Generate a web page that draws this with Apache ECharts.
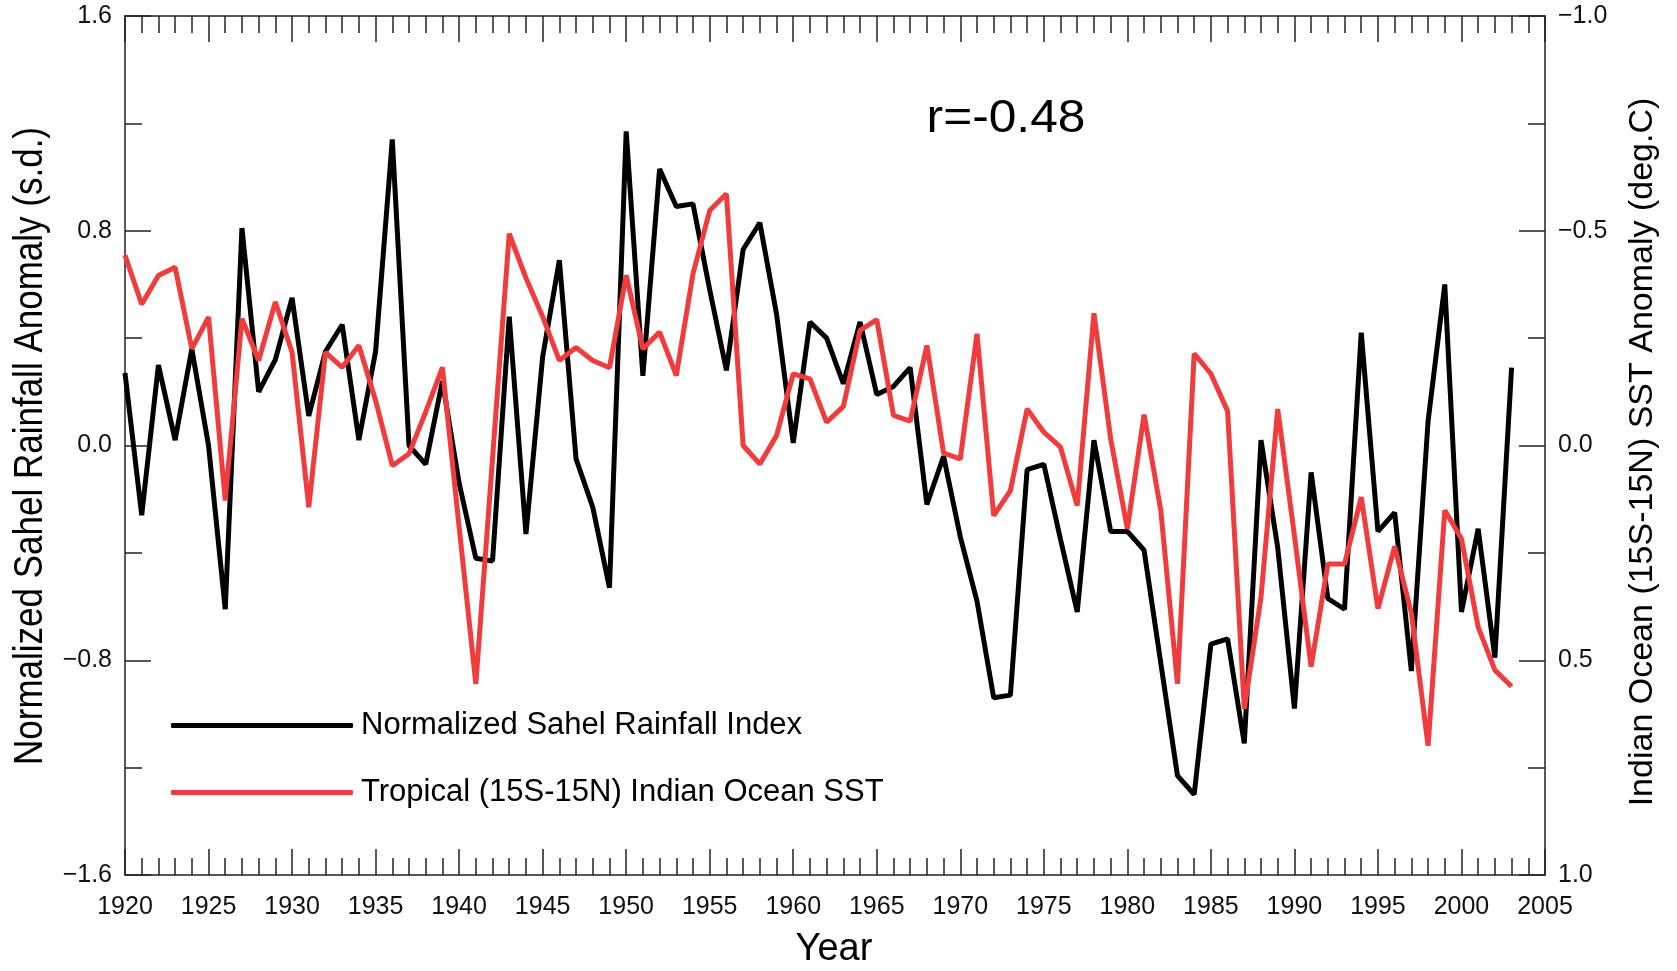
<!DOCTYPE html>
<html>
<head>
<meta charset="utf-8">
<title>Sahel Rainfall vs Indian Ocean SST</title>
<script src="https://cdn.jsdelivr.net/npm/echarts@6.0.0/dist/echarts.min.js"></script>
<style>
    html, body { margin: 0; padding: 0; background: #fff; }
    #chart { width: 1677px; height: 971px; }
</style>
</head>
<body>
<div id="chart"></div>
<script>
// years of the record
var years = [1920, 1921, 1922, 1923, 1924, 1925, 1926, 1927, 1928, 1929,
    1930, 1931, 1932, 1933, 1934, 1935, 1936, 1937, 1938, 1939,
    1940, 1941, 1942, 1943, 1944, 1945, 1946, 1947, 1948, 1949,
    1950, 1951, 1952, 1953, 1954, 1955, 1956, 1957, 1958, 1959,
    1960, 1961, 1962, 1963, 1964, 1965, 1966, 1967, 1968, 1969,
    1970, 1971, 1972, 1973, 1974, 1975, 1976, 1977, 1978, 1979,
    1980, 1981, 1982, 1983, 1984, 1985, 1986, 1987, 1988, 1989,
    1990, 1991, 1992, 1993, 1994, 1995, 1996, 1997, 1998, 1999,
    2000, 2001, 2002, 2003];

// normalized Sahel rainfall index (s.d.), left axis
var sahelRain = [0.27, -0.26, 0.30, 0.02, 0.36, 0.00, -0.61, 0.81, 0.20, 0.32,
    0.55, 0.11, 0.35, 0.45, 0.02, 0.35, 1.14, 0.00, -0.07, 0.24,
    -0.14, -0.42, -0.43, 0.48, -0.33, 0.33, 0.69, -0.05, -0.23, -0.53,
    1.17, 0.26, 1.03, 0.89, 0.90, 0.58, 0.28, 0.73, 0.83, 0.49,
    0.01, 0.46, 0.40, 0.23, 0.46, 0.19, 0.22, 0.29, -0.22, -0.04,
    -0.34, -0.58, -0.94, -0.93, -0.09, -0.07, -0.35, -0.62, 0.02, -0.32,
    -0.32, -0.39, -0.81, -1.23, -1.30, -0.74, -0.72, -1.11, 0.02, -0.38,
    -0.98, -0.10, -0.57, -0.61, 0.42, -0.32, -0.25, -0.84, 0.09, 0.60,
    -0.62, -0.31, -0.79, 0.29];

// tropical (15S-15N) Indian Ocean SST anomaly (deg.C), right axis (inverted)
var indianSst = [-0.443, -0.329, -0.396, -0.415, -0.225, -0.299, 0.128, -0.295, -0.198, -0.334,
    -0.217, 0.144, -0.217, -0.182, -0.233, -0.105, 0.047, 0.019, -0.078, -0.182,
    0.19, 0.555, 0.03, -0.493, -0.39, -0.30, -0.198, -0.228, -0.198, -0.181,
    -0.396, -0.225, -0.264, -0.163, -0.40, -0.547, -0.586, 0.0, 0.043, -0.023,
    -0.167, -0.155, -0.054, -0.091, -0.268, -0.293, -0.07, -0.057, -0.233, 0.018,
    0.031, -0.26, 0.163, 0.105, -0.085, -0.031, 0.004, 0.14, -0.308, -0.016,
    0.194, -0.072, 0.151, 0.555, -0.214, -0.167, -0.08, 0.613, 0.353, -0.085,
    0.21, 0.515, 0.276, 0.276, 0.12, 0.38, 0.235, 0.39, 0.699, 0.151,
    0.217, 0.423, 0.523, 0.561];

var seriesNames = ['Normalized Sahel Rainfall Index', 'Tropical (15S-15N) Indian Ocean SST'];
var corrLabel = 'r=-0.48';

var FONT = '"Liberation Sans", Arial, Helvetica, sans-serif';
var AXIS_COLOR = '#222';

// pair years with values for the value x axis
function toPairs(values) {
    return values.map(function (v, i) {
        return [years[i], v];
    });
}

// one decimal, typographic minus
function fmtTick(v) {
    var s = Math.abs(v).toFixed(1);
    return (v < -1e-9 ? '\u2212' : '') + s;
}

// shared frame settings for every axis (ticks pointing inward)
function frameAxis(extra) {
    var base = {
        axisLine: { show: true, onZero: false, lineStyle: { color: AXIS_COLOR, width: 1.5 } },
        axisTick: { show: true, inside: true, length: 26, lineStyle: { color: AXIS_COLOR, width: 1.5 } },
        minorTick: { show: true, length: 17, lineStyle: { color: AXIS_COLOR, width: 1.5 } },
        splitLine: { show: false },
        minorSplitLine: { show: false }
    };
    for (var k in extra) {
        base[k] = extra[k];
    }
    return base;
}

var myChart = echarts.init(document.getElementById('chart'), null, { renderer: 'canvas' });

var option = {
    animation: false,
    backgroundColor: '#fff',
    grid: {
        left: 125,
        right: 132,
        top: 16,
        bottom: 96
    },
    legend: {
        orient: 'vertical',
        left: 171,
        top: 710,
        padding: 0,
        itemWidth: 182,
        itemHeight: 5,
        itemGap: 36,
        icon: 'roundRect',
        selectedMode: false,
        data: seriesNames,
        textStyle: {
            fontFamily: FONT,
            fontSize: 31,
            lineHeight: 30,
            color: '#000',
            padding: [0, 0, 0, 3]
        }
    },
    xAxis: [
        frameAxis({
            type: 'value',
            position: 'bottom',
            min: 1920,
            max: 2005,
            interval: 5,
            minorTick: { show: true, splitNumber: 5, length: 17, lineStyle: { color: AXIS_COLOR, width: 1.5 } },
            axisLabel: {
                show: true,
                margin: 20,
                fontFamily: FONT,
                fontSize: 25,
                color: '#111',
                formatter: function (v) { return String(v); }
            }
        }),
        frameAxis({
            type: 'value',
            position: 'top',
            min: 1920,
            max: 2005,
            interval: 5,
            minorTick: { show: true, splitNumber: 5, length: 17, lineStyle: { color: AXIS_COLOR, width: 1.5 } },
            axisLabel: { show: false }
        })
    ],
    yAxis: [
        frameAxis({
            type: 'value',
            position: 'left',
            min: -1.6,
            max: 1.6,
            interval: 0.8,
            minorTick: { show: true, splitNumber: 2, length: 17, lineStyle: { color: AXIS_COLOR, width: 1.5 } },
            axisLabel: {
                margin: 13,
                fontFamily: FONT,
                fontSize: 25,
                color: '#111',
                formatter: fmtTick
            }
        }),
        frameAxis({
            type: 'value',
            position: 'right',
            inverse: true,
            min: -1,
            max: 1,
            interval: 0.5,
            minorTick: { show: true, splitNumber: 2, length: 17, lineStyle: { color: AXIS_COLOR, width: 1.5 } },
            axisLabel: {
                margin: 13,
                fontFamily: FONT,
                fontSize: 25,
                color: '#111',
                formatter: fmtTick
            }
        })
    ],
    series: [
        {
            name: seriesNames[0],
            type: 'line',
            xAxisIndex: 0,
            yAxisIndex: 0,
            data: toPairs(sahelRain),
            showSymbol: false,
            symbol: 'none',
            color: '#000',
            lineStyle: { color: '#000', width: 5 }
        },
        {
            name: seriesNames[1],
            type: 'line',
            xAxisIndex: 0,
            yAxisIndex: 1,
            data: toPairs(indianSst),
            showSymbol: false,
            symbol: 'none',
            color: '#f03c3c',
            lineStyle: { color: '#f03c3c', width: 5 }
        }
    ],
    //axis titles and the correlation note
    graphic: [
        {
            type: 'text',
            x: 31,
            y: 446,
            rotation: Math.PI / 2,
            scaleY: 1.15,
            style: {
                text: 'Normalized Sahel Rainfall Anomaly (s.d.)',
                fontFamily: FONT,
                fontSize: 35,
                fill: '#000',
                align: 'center',
                verticalAlign: 'middle'
            }
        },
        {
            type: 'text',
            x: 1643,
            y: 452,
            rotation: Math.PI / 2,
            style: {
                text: 'Indian Ocean (15S-15N) SST Anomaly (deg.C)',
                fontFamily: FONT,
                fontSize: 34,
                fill: '#000',
                align: 'center',
                verticalAlign: 'middle'
            }
        },
        {
            type: 'text',
            x: 834,
            y: 950,
            style: {
                text: 'Year',
                fontFamily: FONT,
                fontSize: 38,
                fill: '#000',
                align: 'center',
                verticalAlign: 'middle'
            }
        },
        {
            type: 'text',
            x: 1006,
            y: 119,
            scaleX: 1.08,
            style: {
                text: corrLabel,
                fontFamily: FONT,
                fontSize: 46,
                fill: '#000',
                align: 'center',
                verticalAlign: 'middle'
            }
        }
    ]
};

myChart.setOption(option);
</script>
</body>
</html>
